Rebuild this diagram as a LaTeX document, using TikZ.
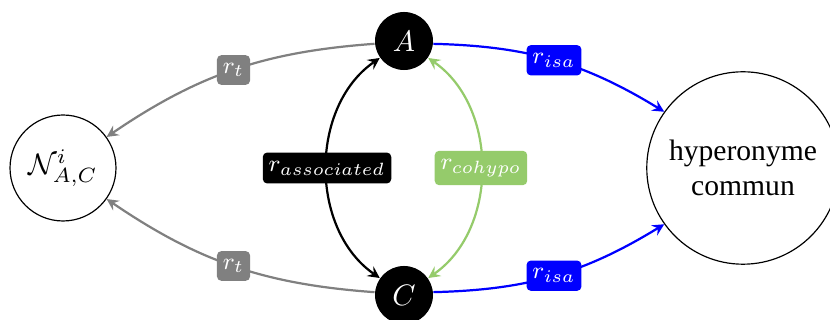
\documentclass[tikz,border=0pt]{standalone}
\usepackage{fontspec}
\setmainfont{Liberation Serif}
\usetikzlibrary{arrows}
\definecolor{cohypo}{RGB}{149,203,107}
\begin{document}
\begin{tikzpicture}[x=0.3378pt,y=-0.3378pt,
  ent/.style={circle,fill=black,text=white,minimum size=19.6pt,inner sep=0pt},
  big/.style={circle,draw,line width=0.4pt,inner sep=0pt},
  rel/.style={line width=0.75pt,-stealth},
  lab/.style={rounded corners=1.5pt,inner xsep=2pt,inner ysep=2.8pt,text=white,font=\footnotesize}
]
\useasboundingbox (0,0) rectangle (830,320);
\node[ent] (A) at (404,41) {$A$};
\node[ent] (C) at (404,295) {$C$};
\node[big,minimum size=35.8pt] (N) at (63,168) {$\mathcal{N}^i_{A,C}$};
\node[big,minimum size=65pt,align=center] (H) at (743,168) {hyperonyme\\commun};
\draw[rel,gray] (A) to[bend right=15] node[lab,fill=gray] (l1) {$r_t$} (N);
\draw[rel,gray] (C) to[bend left=15] node[lab,fill=gray] (l2) {$r_t$} (N);
\draw[rel,blue] (A) to[bend left=15] node[lab,fill=blue] (l3) {$r_{isa}$} (H);
\draw[rel,blue] (C) to[bend right=15] node[lab,fill=blue] (l4) {$r_{isa}$} (H);
\draw[rel,black,stealth-stealth] (A) to[bend right=55] node[lab,fill=black] (l5) {$r_{associated}$} (C);
\draw[rel,cohypo,stealth-stealth] (A) to[bend left=55] node[lab,fill=cohypo] (l6) {$r_{cohypo}$} (C);
\end{tikzpicture}
\end{document}
